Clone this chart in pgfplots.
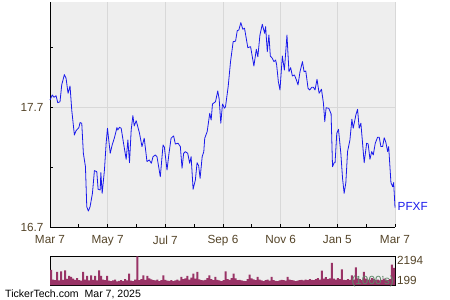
\documentclass[border=0pt]{standalone}
\usepackage{pgfplots}
\pgfplotsset{compat=1.18}
\usepackage{fontspec}
\setmainfont{Liberation Sans}
\definecolor{bgc}{RGB}{238,238,238}
\definecolor{gridc}{RGB}{216,216,216}
\definecolor{labc}{RGB}{84,68,40}
\definecolor{volc}{RGB}{153,51,102}
\definecolor{linec}{RGB}{25,25,235}
\definecolor{unitc}{RGB}{95,135,105}
\begin{document}
\begin{tikzpicture}
\useasboundingbox (0,0) rectangle (450bp,300bp);
\begin{axis}[
  at={(50bp,73bp)}, anchor=south west,
  scale only axis, width=345bp, height=225bp,
  xmin=0, xmax=365, ymin=16.7, ymax=18.575,
  enlargelimits=false,
  axis x line*=bottom, axis y line*=left,
  axis line style={-, black, line width=0.8bp},
  axis background/.style={fill=bgc},
  xtick={0,61,122,183,244,304,365},
  xticklabels={Mar 7,May 7,Jul 7,Sep 6,Nov 6,Jan 5,Mar 7},
  minor xtick={30.5,91.5,152.5,213.5,274,334.5},
  ytick={16.7,17.7}, yticklabels={16.7,17.7},
  minor ytick={17.2,18.2},
  xmajorgrids, ymajorgrids,
  major grid style={gridc, line width=0.8bp},
  tick align=inside,
  major tick length=3bp, minor tick length=3bp,
  tick style={black, line width=0.8bp},
  /pgf/number format/assume math mode=true,
  ticklabel style={font=\fontsize{11.8}{13}\selectfont, text=labc},
  xticklabel style={yshift=-5bp},
  yticklabel style={xshift=-3bp},
  clip=false,
]
\addplot[linec, line width=0.8bp, line join=round] coordinates {
(0,17.758) (2.4,17.800) (4.2,17.781) (6.4,17.794) (8.2,17.736) (10.6,17.744)
(12.4,17.884) (15.2,17.970) (17.0,17.939) (19.1,17.814) (21.2,17.875) (23.0,17.675)
(25.8,17.467) (27.6,17.503) (30.5,17.528) (31.8,17.570) (33.6,17.565) (35.3,17.314)
(37.5,17.203) (38.9,16.869) (40.6,16.833) (42.4,16.869) (44.9,16.981) (47.0,17.170)
(49.5,17.161) (50.9,17.015) (53.1,17.009) (53.8,17.153) (55.2,16.981) (57.6,17.175)
(59.4,17.398) (60.8,17.523) (63.7,17.314) (65.8,17.384) (68.2,17.444) (70.8,17.528)
(71.8,17.509) (73.5,17.531) (75.3,17.523) (77.8,17.398) (80.6,17.264) (82.4,17.425)
(84.1,17.236) (85.9,17.509) (87.7,17.628) (89.1,17.542) (91.2,17.586) (94.7,17.481)
(97.3,17.370) (99.7,17.440) (102.6,17.245) (105.0,17.259) (107.2,17.231) (109.0,17.286)
(111.4,17.300) (113.2,17.286) (116.7,17.119) (119.6,17.384) (121.0,17.365) (123.8,17.175)
(125.9,17.314) (128.1,17.440) (130.8,17.459) (132.6,17.392) (135.5,17.398) (137.9,17.370)
(139.7,17.190) (141.4,17.314) (143.2,17.328) (145.7,17.314) (147.8,17.231) (149.3,17.286)
(151.4,17.015) (153.8,17.092) (155.6,17.236) (157.3,17.209) (158.8,17.106) (161.0,17.286)
(162.7,17.328) (163.7,17.440) (166.3,17.495) (169.0,17.648) (170.5,17.592) (171.9,17.725)
(175.1,17.744) (177.5,17.834) (179.0,17.764) (180.7,17.565) (182.5,17.725) (184.6,17.690)
(185.7,17.703) (188.5,17.870) (191.0,18.078) (193.8,18.245) (196.3,18.248) (198.1,18.336)
(199.8,18.342) (201.9,18.403) (204.0,18.348) (205.8,18.356) (209.3,18.194) (212.2,18.203)
(215.7,18.042) (218.3,18.181) (219.9,18.119) (222.1,18.300) (224.6,18.389) (227.1,18.314)
(228.1,18.370) (229.9,18.161) (231.6,18.300) (233.1,18.125) (235.2,18.106) (236.9,18.078)
(238.7,18.092) (239.8,18.050) (241.6,17.911) (243.3,17.842) (245.8,18.125) (248.0,18.008)
(250.7,18.300) (252.8,17.994) (254.6,18.028) (256.4,17.959) (258.6,17.967) (260.7,17.925)
(262.4,17.884) (264.5,17.994) (267.1,18.078) (268.8,17.994) (270.6,18.000) (273.0,17.856)
(274.8,17.842) (276.9,17.864) (278.7,17.864) (280.4,17.842) (282.5,17.931) (284.7,17.814)
(287.2,17.848) (289.3,17.731) (290.7,17.578) (292.1,17.694) (295.0,17.689) (297.4,17.642)
(298.9,17.203) (300.6,17.236) (301.6,17.236) (303.4,17.481) (305.2,17.514) (307.7,17.314)
(309.5,17.106) (311.2,16.981) (313.0,17.070) (314.8,17.328) (317.3,17.425) (319.4,17.598)
(320.8,17.523) (323.6,17.634) (325.4,17.681) (327.1,17.523) (328.9,17.565) (332.4,17.236)
(335.0,17.398) (336.6,17.392) (338.5,17.264) (340.3,17.328) (342.0,17.300) (344.1,17.398)
(346.6,17.448) (348.3,17.448) (350.1,17.370) (351.9,17.370) (353.6,17.444) (355.4,17.403)
(357.2,17.328) (358.3,17.370) (360.7,17.070) (362.5,17.036) (363.6,17.070) (365,16.861)
};
\node[anchor=west, text=linec, font=\fontsize{11.8}{13}\selectfont, inner sep=0pt, xshift=2.5bp] at (axis cs:365,16.87) {PFXF};
\end{axis}
\begin{axis}[
  at={(50bp,15bp)}, anchor=south west,
  scale only axis, width=345bp, height=28.7bp,
  xmin=-0.5, xmax=171.5, ymin=0, ymax=2194,
  enlargelimits=false,
  axis background/.style={fill=bgc},
  axis line style={black, line width=0.8bp},
  xtick=\empty,
  ytick={199}, yticklabels={199},
  extra y ticks={2194}, extra y tick labels={2194},
  extra y tick style={yticklabel style={yshift=-6bp}},
  yticklabel pos=right,
  major tick length=0pt,
  /pgf/number format/assume math mode=true,
  ticklabel style={font=\fontsize{11.8}{13}\selectfont, text=labc},
  yticklabel style={xshift=-1.5bp, yshift=2bp},
  clip=false,
]
\addplot[ybar, bar width=1, fill=volc, draw=none] coordinates {
(0,1150) (1,420) (2,380) (3,1000) (4,350) (5,1050) (6,400) (7,1120) (8,460) (9,700)
(10,620) (11,480) (12,400) (13,520) (14,380) (15,330) (16,1000) (17,420) (18,690) (19,360)
(20,740) (21,400) (22,690) (23,350) (24,1120) (25,690) (26,420) (27,380) (28,690) (29,330)
(30,300) (31,350) (32,420) (33,280) (34,310) (35,380) (36,300) (37,450) (38,360) (39,870)
(40,330) (41,300) (42,420) (43,2194) (44,380) (45,450) (46,740) (47,400) (48,690) (49,500)
(50,430) (51,380) (52,350) (53,420) (54,300) (55,380) (56,740) (57,400) (58,330) (59,310)
(60,380) (61,300) (62,350) (63,420) (64,330) (65,620) (66,450) (67,500) (68,690) (69,420)
(70,560) (71,870) (72,480) (73,1000) (74,430) (75,380) (76,350) (77,400) (78,520) (79,740)
(80,450) (81,380) (82,620) (83,400) (84,350) (85,300) (86,380) (87,1050) (88,450) (89,400)
(90,520) (91,870) (92,500) (93,380) (94,400) (95,350) (96,320) (97,300) (98,450) (99,800)
(100,500) (101,430) (102,380) (103,620) (104,420) (105,350) (106,300) (107,380) (108,420) (109,330)
(110,620) (111,380) (112,320) (113,300) (114,350) (115,400) (116,380) (117,330) (118,620) (119,420)
(120,380) (121,350) (122,300) (123,330) (124,380) (125,400) (126,350) (127,420) (128,380) (129,450)
(130,400) (131,380) (132,450) (133,520) (134,420) (135,1100) (136,480) (137,600) (138,450) (139,500)
(140,1700) (141,480) (142,420) (143,520) (144,450) (145,1200) (146,400) (147,380) (148,450) (149,400)
(150,740) (151,420) (152,1350) (153,500) (154,450) (155,380) (156,1000) (157,480) (158,420) (159,400)
(160,520) (161,450) (162,380) (163,420) (164,350) (165,400) (166,480) (167,420) (168,380) (169,450)
(170,1560) (171,1300)
};
\node[anchor=east, text=unitc, font=\fontsize{11.8}{13}\selectfont, inner sep=0pt] at (axis cs:171,250) {(1000's)};
\end{axis}
\node[anchor=west, font=\fontsize{10.6}{12}\selectfont, inner sep=0pt] at (5bp,6bp) {TickerTech.com\ \ Mar 7, 2025};
\end{tikzpicture}
\end{document}
